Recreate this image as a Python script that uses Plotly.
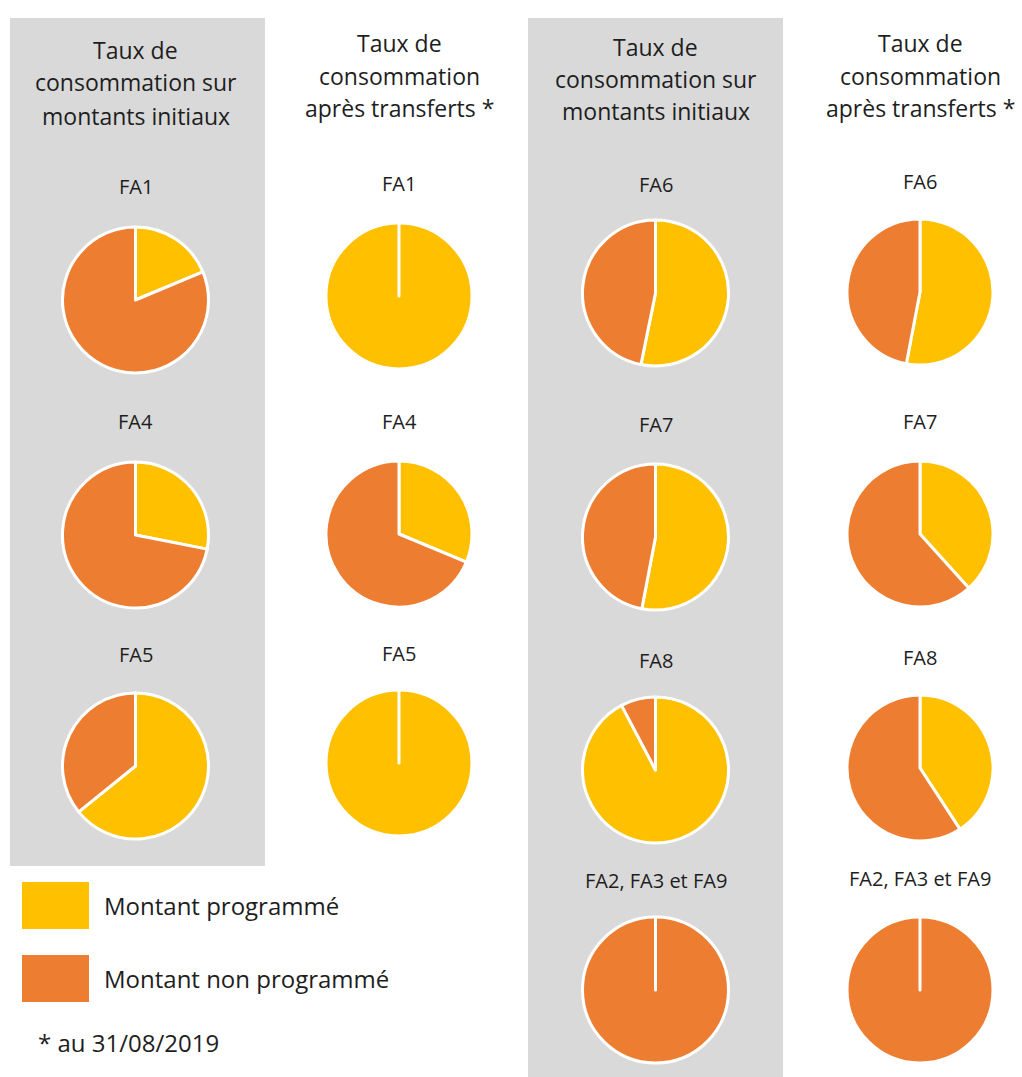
import plotly.graph_objects as go

W, H = 1022, 1077

categories = ["Montant programmé", "Montant non programmé"]
colors = ["#FFC000", "#ED7D31"]

col_titles = [
    ["Taux de", "consommation sur", "montants initiaux"],
    ["Taux de", "consommation", "après transferts *"],
    ["Taux de", "consommation sur", "montants initiaux"],
    ["Taux de", "consommation", "après transferts *"],
]

# pie labels per column
labels_c1 = ["FA1", "FA4", "FA5"]
labels_c2 = ["FA1", "FA4", "FA5"]
labels_c3 = ["FA6", "FA7", "FA8", "FA2, FA3 et FA9"]
labels_c4 = ["FA6", "FA7", "FA8", "FA2, FA3 et FA9"]

# programmed share (%) per pie
prog_c1 = [18.7, 28.1, 64.2]
prog_c2 = [100.0, 31.3, 100.0]
prog_c3 = [53.2, 53.0, 92.3, 0.0]
prog_c4 = [53.0, 38.3, 40.8, 0.0]

columns = [
    (labels_c1, prog_c1),
    (labels_c2, prog_c2),
    (labels_c3, prog_c3),
    (labels_c4, prog_c4),
]

footnote = "* au 31/08/2019"

# ---- layout geometry (pixels) ----
col_x = [135.5, 399, 655.5, 920]
pie_cy = [[300, 535, 766], [296, 534, 763], [293, 537, 770, 990], [292, 534, 768, 990]]
lab_cy = [[187, 422, 654], [183, 421, 653], [184, 424, 660, 880], [182, 421, 657, 878]]
title_cy = [[50, 82, 116], [43, 76, 108], [47, 79, 111], [43, 76, 108]]
R = 73

FONT = "Open Sans"
TXT = "#1e1e1e"

fig = go.Figure()
annotations = []
shapes = []

# grey backgrounds
shapes.append(dict(type="rect", xref="paper", yref="paper", x0=10 / W, x1=265 / W,
                   y0=1 - 866 / H, y1=1 - 18 / H, fillcolor="#D9D9D9", line_width=0, layer="below"))
shapes.append(dict(type="rect", xref="paper", yref="paper", x0=528 / W, x1=783 / W,
                   y0=0, y1=1 - 18 / H, fillcolor="#D9D9D9", line_width=0, layer="below"))

for ci, (labs, progs) in enumerate(columns):
    cx = col_x[ci]
    for li, line in enumerate(col_titles[ci]):
        annotations.append(dict(text=line, x=cx / W, y=1 - title_cy[ci][li] / H, xref="paper", yref="paper",
                                showarrow=False, xanchor="center", yanchor="middle",
                                font=dict(family=FONT, size=23, color=TXT)))
    for pi, (lab, p) in enumerate(zip(labs, progs)):
        cy = pie_cy[ci][pi]
        vals = [p, 100 - p]
        labs_ord = list(categories)
        cols_ord = list(colors)
        if p == 0:
            # draw the empty slice last so its white edge stays visible on top
            vals, labs_ord, cols_ord = vals[::-1], labs_ord[::-1], cols_ord[::-1]
        fig.add_trace(go.Pie(
            labels=labs_ord, values=vals, sort=False, direction="clockwise", rotation=0,
            marker=dict(colors=cols_ord, line=dict(color="white", width=3)),
            textinfo="none", hoverinfo="label+percent", showlegend=False,
            domain=dict(x=[(cx - R) / W, (cx + R) / W], y=[1 - (cy + R) / H, 1 - (cy - R) / H]),
        ))
        annotations.append(dict(text=lab, x=cx / W, y=1 - lab_cy[ci][pi] / H, xref="paper", yref="paper",
                                showarrow=False, xanchor="center", yanchor="middle",
                                font=dict(family=FONT, size=20, color=TXT)))

# legend
leg_y = [(882, 929), (955, 1002)]
for i, cat in enumerate(categories):
    y0, y1 = leg_y[i]
    shapes.append(dict(type="rect", xref="paper", yref="paper", x0=22 / W, x1=89 / W,
                       y0=1 - y1 / H, y1=1 - y0 / H, fillcolor=colors[i], line_width=0))
    annotations.append(dict(text=cat, x=102 / W, y=1 - ((y0 + y1) / 2) / H, xref="paper", yref="paper",
                            showarrow=False, xanchor="left", yanchor="middle",
                            font=dict(family=FONT, size=24, color=TXT)))
annotations.append(dict(text=footnote, x=36 / W, y=1 - 1042 / H, xref="paper", yref="paper",
                        showarrow=False, xanchor="left", yanchor="middle",
                        font=dict(family=FONT, size=24, color=TXT)))

fig.update_layout(width=W, height=H, margin=dict(l=0, r=0, t=0, b=0),
                  paper_bgcolor="white", plot_bgcolor="white",
                  annotations=annotations, shapes=shapes, showlegend=False)

fig.write_html("out.html")
